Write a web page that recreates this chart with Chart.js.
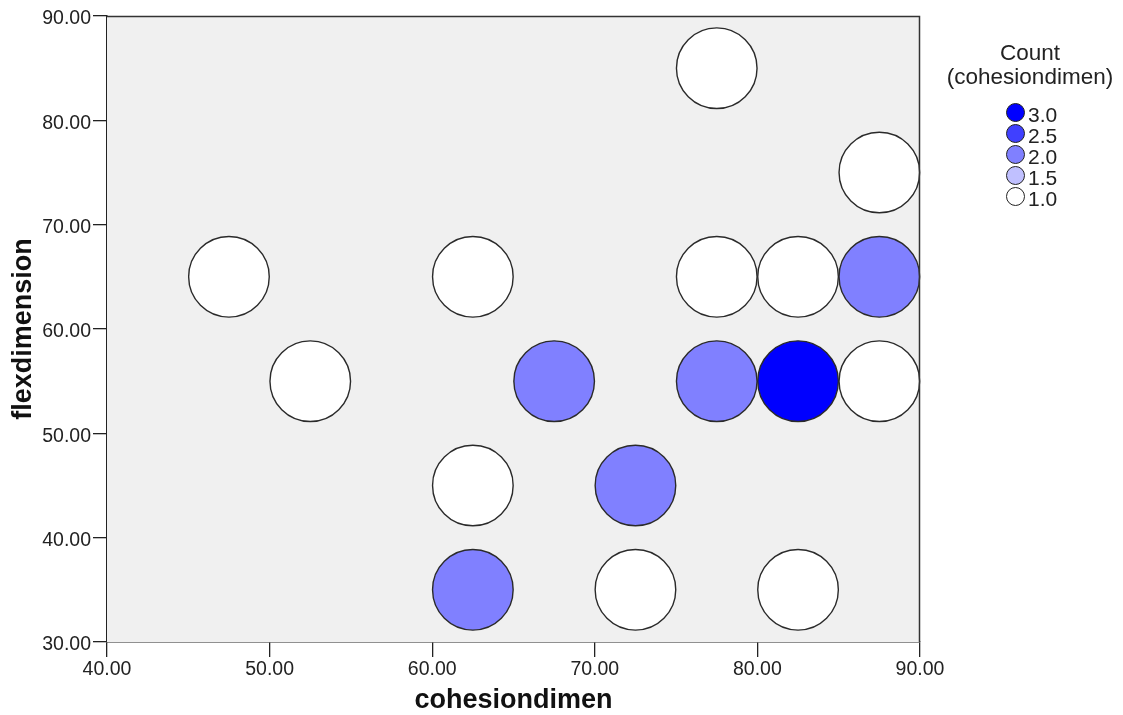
<!DOCTYPE html>
<html>
<head>
<meta charset="utf-8">
<script src="https://cdn.jsdelivr.net/npm/chart.js@4.4.1/dist/chart.umd.min.js"></script>
<style>
  html, body { margin: 0; padding: 0; background: #fff; }
  #wrap { position: relative; width: 1123px; height: 715px; overflow: hidden; }
  #legend { position: absolute; left: 0; top: 0; width: 1123px; height: 715px; font-family: "Liberation Sans", Arial, sans-serif; color: #222; pointer-events: none; }
  #legend .title { position: absolute; left: 937px; width: 186px; top: 41px; text-align: center; font-size: 22.5px; line-height: 23.5px; white-space: nowrap; }
  #legend .item { position: absolute; left: 1006px; height: 21px; font-size: 21px; line-height: 21px; white-space: nowrap; }
  #legend .dot { position: absolute; left: 0; top: 0px; width: 19px; height: 19px; box-sizing: border-box; border: 1.5px solid #222; border-radius: 50%; }
  #legend .lab { position: absolute; left: 22px; top: 1px; }
</style>
</head>
<body>
<div id="wrap">
  <canvas id="c" width="1123" height="715"></canvas>
  <div id="legend"></div>
</div>
<script>
// ---- data ----
const cohesiondimen = [77.5, 87.5, 47.5, 62.5, 77.5, 82.5, 87.5, 52.5, 67.5, 77.5, 82.5, 87.5, 62.5, 72.5, 62.5, 72.5, 82.5];
const flexdimension = [85, 75, 65, 65, 65, 65, 65, 55, 55, 55, 55, 55, 45, 45, 35, 35, 35];
const counts        = [1, 1, 1, 1, 1, 1, 2, 1, 2, 2, 3, 1, 1, 2, 2, 1, 1];
const legendValues  = [3.0, 2.5, 2.0, 1.5, 1.0];
const xTicks = [40, 50, 60, 70, 80, 90];
const yTicks = [30, 40, 50, 60, 70, 80, 90];

// colour scale
const palette = { '3.0': '#0000ff', '2.5': '#4040ff', '2.0': '#8080ff', '1.5': '#c0c0ff', '1.0': '#ffffff' };
const colorFor = v => palette[Number(v).toFixed(1)];

const FONT = '"Liberation Sans", Arial, sans-serif';

const points = cohesiondimen.map((x, i) => ({ x: x, y: flexdimension[i] }));

const plotFrame = {
  id: 'plotFrame',
  beforeDatasetsDraw(chart) {
    const a = chart.chartArea, ctx = chart.ctx;
    ctx.save();
    ctx.fillStyle = '#f0f0f0';
    ctx.fillRect(a.left, a.top, a.right - a.left, a.bottom - a.top);
    ctx.restore();
  },
  afterDatasetsDraw(chart) {
    const a = chart.chartArea, ctx = chart.ctx;
    ctx.save();
    ctx.strokeStyle = '#333';
    ctx.lineWidth = 1.5;
    ctx.beginPath();
    ctx.moveTo(a.left, a.top + 0.5);
    ctx.lineTo(a.right - 0.5, a.top + 0.5);
    ctx.lineTo(a.right - 0.5, a.bottom);
    ctx.stroke();
    ctx.restore();
  }
};

new Chart(document.getElementById('c'), {
  type: 'scatter',
  data: {
    datasets: [{
      data: points,
      backgroundColor: counts.map(colorFor),
      borderColor: '#2a2a2a',
      borderWidth: 1.4,
      pointRadius: 40.3,
      pointHoverRadius: 40.3,
      clip: false
    }]
  },
  plugins: [plotFrame],
  options: {
    responsive: false,
    animation: false,
    events: [],
    layout: { autoPadding: false, padding: { top: 16, right: 203, left: 0, bottom: 0 } },
    plugins: { legend: { display: false }, tooltip: { enabled: false } },
    scales: {
      x: {
        type: 'linear', min: 40, max: 90,
        afterFit(s) { s.height = 73; s.paddingLeft = 0; s.paddingRight = 0; },
        afterBuildTicks(s) { s.ticks = xTicks.map(v => ({ value: v })); },
        grid: { drawOnChartArea: false, drawTicks: true, tickLength: 15, color: '#222', lineWidth: 1.3 },
        border: { display: true, color: '#222', width: 1.5 },
        ticks: { color: '#222', font: { family: FONT, size: 19.5 }, padding: 1, maxRotation: 0, autoSkip: false, callback: v => Number(v).toFixed(2) },
        title: { display: true, text: 'cohesiondimen', color: '#111', font: { family: FONT, size: 27, weight: 'bold', lineHeight: 1 }, padding: { top: 0, bottom: 0.5 } }
      },
      y: {
        type: 'linear', min: 30, max: 90,
        afterFit(s) { s.width = 107; s.paddingTop = 0; s.paddingBottom = 0; },
        afterBuildTicks(s) { s.ticks = yTicks.map(v => ({ value: v })); },
        grid: { drawOnChartArea: false, drawTicks: true, tickLength: 14, color: '#222', lineWidth: 1.3 },
        border: { display: true, color: '#222', width: 1.5 },
        ticks: { color: '#222', font: { family: FONT, size: 19.5 }, padding: 2, labelOffset: 3, autoSkip: false, callback: v => Number(v).toFixed(2) },
        title: { display: true, text: 'flexdimension', color: '#111', font: { family: FONT, size: 27, weight: 'bold', lineHeight: 1 }, padding: { top: 10.5, bottom: 0 } }
      }
    }
  }
});

// legend (HTML, real text)
const lg = document.getElementById('legend');
const rowTop = 103, rowStep = 21;
lg.innerHTML = '<div class="title">Count<br>(cohesiondimen)</div>' +
  legendValues.map((v, i) => '<div class="item" style="top:' + (rowTop + i * rowStep) + 'px"><span class="dot" style="background:' + colorFor(v) + '"></span><span class="lab">' + v.toFixed(1) + '</span></div>').join('');
</script>
</body>
</html>
